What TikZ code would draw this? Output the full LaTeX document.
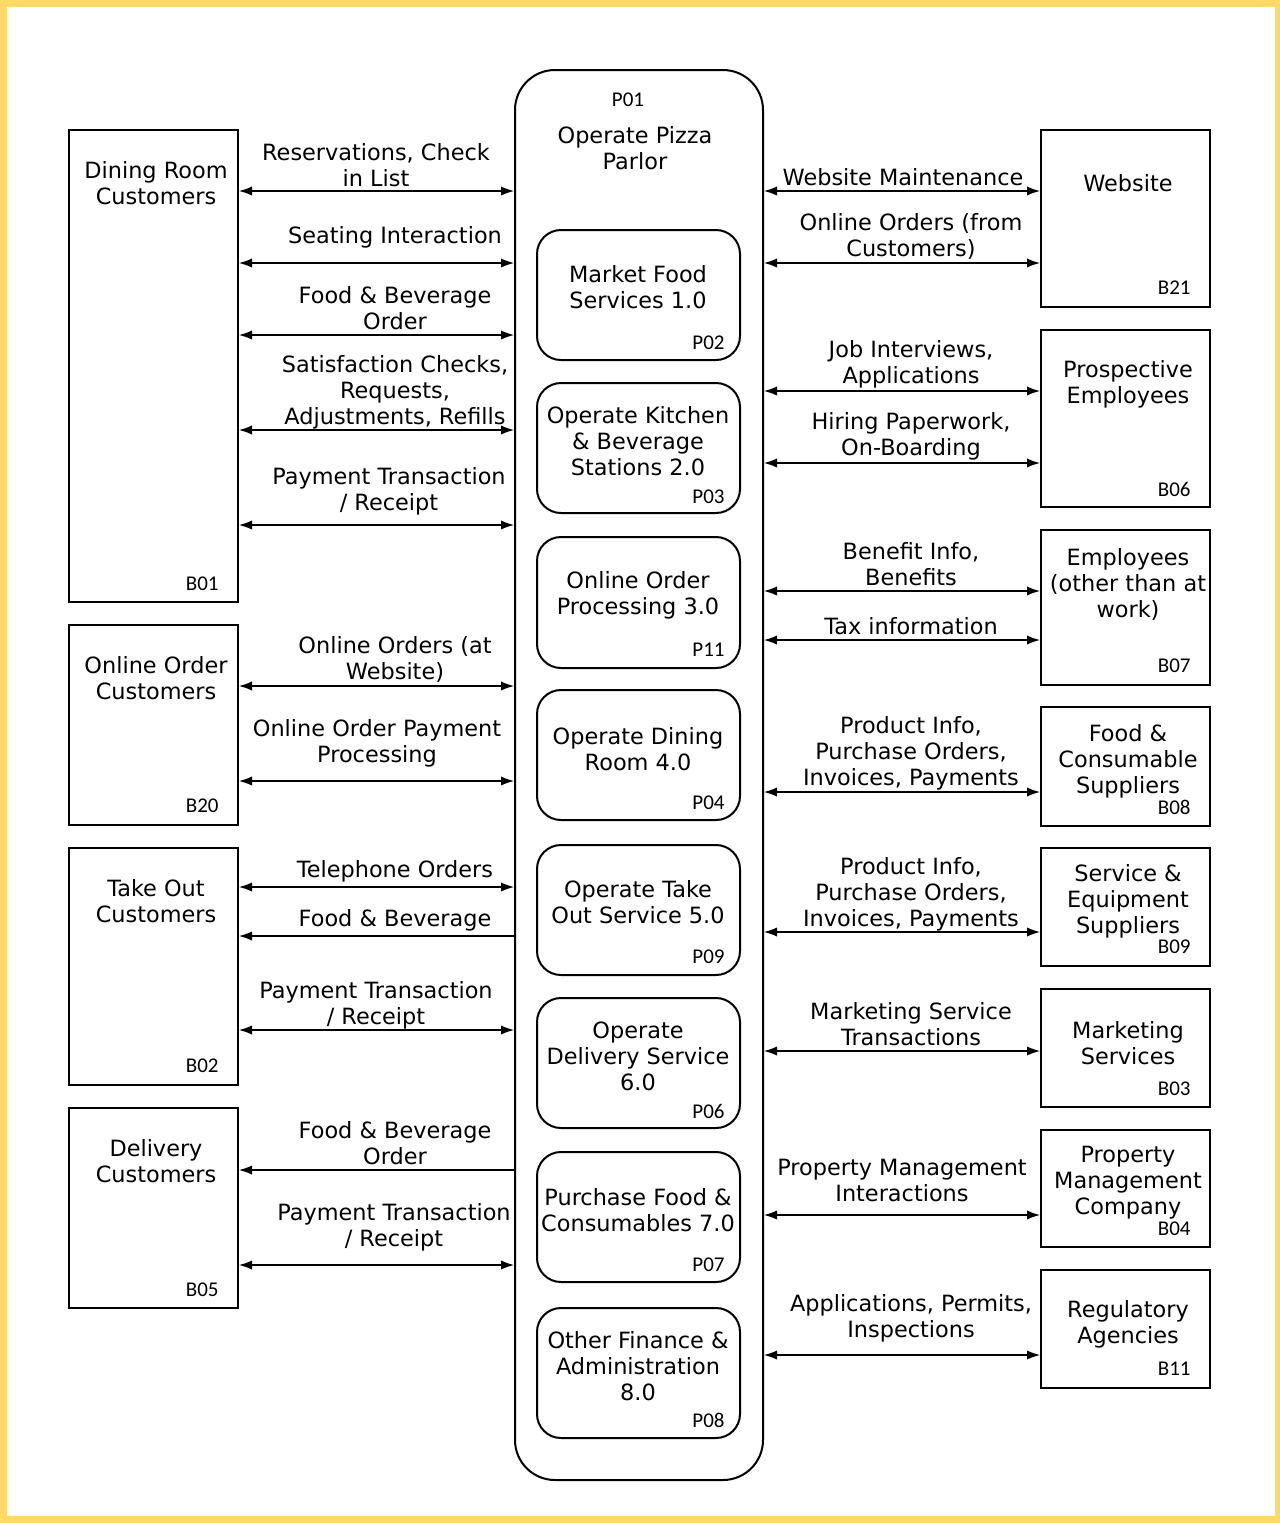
\documentclass[tikz,border=0pt]{standalone}
\usepackage{fontspec}
\setmainfont{DejaVu Sans}
\newfontfamily\idfont{Carlito}
\usetikzlibrary{fit,arrows.meta}
\definecolor{frameyellow}{RGB}{255,217,102}
\tikzset{
  ext/.style={draw, line width=1pt, inner sep=0pt},
  proc/.style={draw, line width=1pt, inner sep=0pt, rounded corners=12pt},
  outer/.style={draw, line width=1pt, inner sep=0pt, rounded corners=20pt},
  lbl/.style={align=center, inner sep=0pt, font=\fontsize{11.2pt}{13pt}\selectfont},
  idl/.style={inner sep=0pt, font=\idfont\fontsize{10.5pt}{12pt}\selectfont},
  flow/.style={line width=0.6pt, {Latex[length=6.5pt,width=4.6pt]}-{Latex[length=6.5pt,width=4.6pt]}},
  flowl/.style={line width=0.6pt, {Latex[length=6.5pt,width=4.6pt]}-},
}
\begin{document}
\begin{tikzpicture}[x=0.5pt,y=-0.5pt]
\fill[frameyellow] (0,0) rectangle (1280,1523);
\fill[white] (7,7) rectangle (1275,1516);
\useasboundingbox (0,0) rectangle (1280,1523);

% outer process
\node[outer, fit={(515,70) (763,1480)}] (P01) {};
\node[idl] (P01id) at (628,100) {P01};
\node[lbl] (P01t) at (635,148) {Operate Pizza\\Parlor};

% inner processes
\node[proc, fit={(537,230) (740,360)}] (P02) {};
\node[lbl] (P02t) at (638,287) {Market Food\\Services 1.0};
\node[idl, anchor=east] (P02id) at (725,343) {P02};
\node[proc, fit={(537,383) (740,513)}] (P03) {};
\node[lbl] (P03t) at (638,441) {Operate Kitchen\\\& Beverage\\Stations 2.0};
\node[idl, anchor=east] (P03id) at (725,497) {P03};
\node[proc, fit={(537,537) (740,668)}] (P11) {};
\node[lbl] (P11t) at (638,595) {Online Order\\Processing 3.0};
\node[idl, anchor=east] (P11id) at (725,650) {P11};
\node[proc, fit={(537,690) (740,820)}] (P04) {};
\node[lbl] (P04t) at (638,749) {Operate Dining\\Room 4.0};
\node[idl, anchor=east] (P04id) at (725,803) {P04};
\node[proc, fit={(537,845) (740,975)}] (P09) {};
\node[lbl] (P09t) at (638,902) {Operate Take\\Out Service 5.0};
\node[idl, anchor=east] (P09id) at (725,957) {P09};
\node[proc, fit={(537,998) (740,1128)}] (P06) {};
\node[lbl] (P06t) at (638,1056) {Operate\\Delivery Service\\6.0};
\node[idl, anchor=east] (P06id) at (725,1111) {P06};
\node[proc, fit={(537,1152) (740,1282)}] (P07) {};
\node[lbl] (P07t) at (638,1210) {Purchase Food \&\\Consumables 7.0};
\node[idl, anchor=east] (P07id) at (725,1265) {P07};
\node[proc, fit={(537,1308) (740,1438)}] (P08) {};
\node[lbl] (P08t) at (638,1366) {Other Finance \&\\Administration\\8.0};
\node[idl, anchor=east] (P08id) at (725,1420) {P08};

% left externals
\node[ext, fit={(69,130) (238,602)}] (B01) {};
\node[lbl] (B01t) at (156,183) {Dining Room\\Customers};
\node[idl, anchor=east] (B01id) at (219,584) {B01};
\node[ext, fit={(69,625) (238,825)}] (B20) {};
\node[lbl] (B20t) at (156,678) {Online Order\\Customers};
\node[idl, anchor=east] (B20id) at (219,806) {B20};
\node[ext, fit={(69,848) (238,1085)}] (B02) {};
\node[lbl] (B02t) at (156,901) {Take Out\\Customers};
\node[idl, anchor=east] (B02id) at (219,1066) {B02};
\node[ext, fit={(69,1108) (238,1308)}] (B05) {};
\node[lbl] (B05t) at (156,1161) {Delivery\\Customers};
\node[idl, anchor=east] (B05id) at (219,1290) {B05};

% right externals
\node[ext, fit={(1041,130) (1210,307)}] (B21) {};
\node[lbl] (B21t) at (1128,183) {Website};
\node[idl, anchor=east] (B21id) at (1191,288) {B21};
\node[ext, fit={(1041,330) (1210,507)}] (B06) {};
\node[lbl] (B06t) at (1128,384) {Prospective\\Employees};
\node[idl, anchor=east] (B06id) at (1191,489) {B06};
\node[ext, fit={(1041,530) (1210,685)}] (B07) {};
\node[lbl] (B07t) at (1128,584) {Employees\\(other than at\\work)};
\node[idl, anchor=east] (B07id) at (1191,666) {B07};
\node[ext, fit={(1041,707) (1210,826)}] (B08) {};
\node[lbl] (B08t) at (1128,761) {Food \&\\Consumable\\Suppliers};
\node[idl, anchor=east] (B08id) at (1191,807) {B08};
\node[ext, fit={(1041,848) (1210,966)}] (B09) {};
\node[lbl] (B09t) at (1128,901) {Service \&\\Equipment\\Suppliers};
\node[idl, anchor=east] (B09id) at (1191,947) {B09};
\node[ext, fit={(1041,989) (1210,1107)}] (B03) {};
\node[lbl] (B03t) at (1128,1043) {Marketing\\Services};
\node[idl, anchor=east] (B03id) at (1191,1089) {B03};
\node[ext, fit={(1041,1130) (1210,1247)}] (B04) {};
\node[lbl] (B04t) at (1128,1183) {Property\\Management\\Company};
\node[idl, anchor=east] (B04id) at (1191,1229) {B04};
\node[ext, fit={(1041,1270) (1210,1388)}] (B11) {};
\node[lbl] (B11t) at (1128,1324) {Regulatory\\Agencies};
\node[idl, anchor=east] (B11id) at (1191,1369) {B11};

% left flows
\node[lbl] (L1) at (376,165) {Reservations, Check\\in List};
\draw[flow] (B01.east |- 0,191) -- (P01.west |- 0,191);
\node[lbl] (L2) at (395,237) {Seating Interaction};
\draw[flow] (B01.east |- 0,263) -- (P01.west |- 0,263);
\node[lbl] (L3) at (395,308) {Food \& Beverage\\Order};
\draw[flow] (B01.east |- 0,335) -- (P01.west |- 0,335);
\node[lbl] (L4) at (395,392) {Satisfaction Checks,\\Requests,\\Adjustments, Refills};
\draw[flow] (B01.east |- 0,430) -- (P01.west |- 0,430);
\node[lbl] (L5) at (389,491) {Payment Transaction\\/ Receipt};
\draw[flow] (B01.east |- 0,525) -- (P01.west |- 0,525);
\node[lbl] (L6) at (395,659) {Online Orders (at\\Website)};
\draw[flow] (B20.east |- 0,686) -- (P01.west |- 0,686);
\node[lbl] (L7) at (377,743) {Online Order Payment\\Processing};
\draw[flow] (B20.east |- 0,781) -- (P01.west |- 0,781);
\node[lbl] (L8) at (395,871) {Telephone Orders};
\draw[flow] (B02.east |- 0,887) -- (P01.west |- 0,887);
\node[lbl] (L9) at (395,920) {Food \& Beverage};
\draw[flowl] (B02.east |- 0,936) -- (P01.west |- 0,936);
\node[lbl] (L10) at (376,1005) {Payment Transaction\\/ Receipt};
\draw[flow] (B02.east |- 0,1030) -- (P01.west |- 0,1030);
\node[lbl] (L11) at (395,1143) {Food \& Beverage\\Order};
\draw[flowl] (B05.east |- 0,1170) -- (P01.west |- 0,1170);
\node[lbl] (L12) at (394,1227) {Payment Transaction\\/ Receipt};
\draw[flow] (B05.east |- 0,1265) -- (P01.west |- 0,1265);

% right flows
\node[lbl] (R1) at (903,177) {Website Maintenance};
\draw[flow] (P01.east |- 0,191) -- (B21.west |- 0,191);
\node[lbl] (R2) at (911,236) {Online Orders (from\\Customers)};
\draw[flow] (P01.east |- 0,263) -- (B21.west |- 0,263);
\node[lbl] (R3) at (911,364) {Job Interviews,\\Applications};
\draw[flow] (P01.east |- 0,391) -- (B06.west |- 0,391);
\node[lbl] (R4) at (911,436) {Hiring Paperwork,\\On-Boarding};
\draw[flow] (P01.east |- 0,463) -- (B06.west |- 0,463);
\node[lbl] (R5) at (911,564) {Benefit Info,\\Benefits};
\draw[flow] (P01.east |- 0,591) -- (B07.west |- 0,591);
\node[lbl] (R6) at (911,626) {Tax information};
\draw[flow] (P01.east |- 0,640) -- (B07.west |- 0,640);
\node[lbl] (R7) at (911,753) {Product Info,\\Purchase Orders,\\Invoices, Payments};
\draw[flow] (P01.east |- 0,792) -- (B08.west |- 0,792);
\node[lbl] (R8) at (911,894) {Product Info,\\Purchase Orders,\\Invoices, Payments};
\draw[flow] (P01.east |- 0,932) -- (B09.west |- 0,932);
\node[lbl] (R9) at (911,1024) {Marketing Service\\Transactions};
\draw[flow] (P01.east |- 0,1051) -- (B03.west |- 0,1051);
\node[lbl] (R10) at (902,1180) {Property Management\\Interactions};
\draw[flow] (P01.east |- 0,1215) -- (B04.west |- 0,1215);
\node[lbl] (R11) at (911,1318) {Applications, Permits,\\Inspections};
\draw[flow] (P01.east |- 0,1355) -- (B11.west |- 0,1355);
\end{tikzpicture}
\end{document}
